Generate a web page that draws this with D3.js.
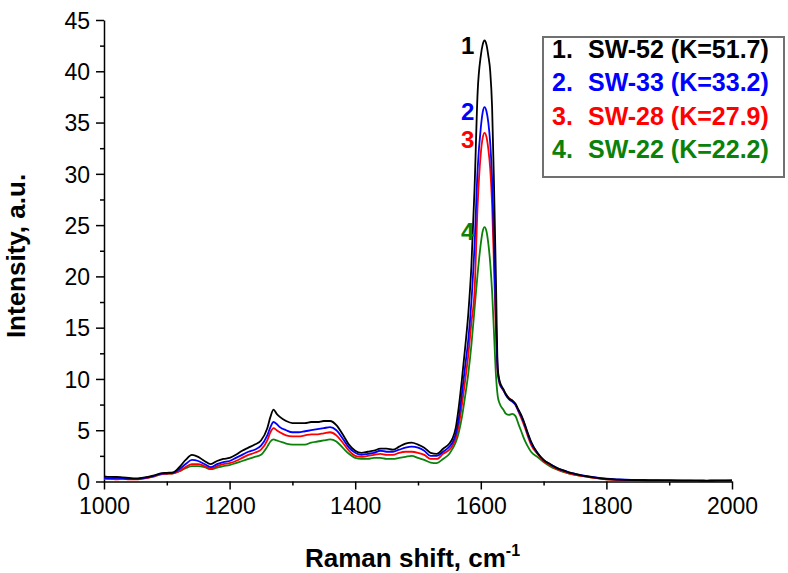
<!DOCTYPE html>
<meta charset="utf-8">
<style>
body { margin: 0; background: #fff; }
svg { font-family: "Liberation Sans", Arial, sans-serif; }
.axis path, .axis line { stroke: #000; stroke-width: 1.5; }
.axis text { font-size: 23px; fill: #000; }
.curve { fill: none; stroke-width: 1.8; stroke-linejoin: round; }
</style>
<svg width="788" height="573"></svg>
<script src="https://d3js.org/d3.v7.min.js"></script>
<script>

// Raman shift, cm-1
var shift = [1000,1010,1020,1030,1040,1050,1060,1070,1080,1090,
  1100,1110,1120,1130,1140,1150,1160,1170,1180,1190,
  1200,1210,1220,1230,1240,1250,1260,1265,1270,1275,
  1280,1290,1300,1310,1320,1330,1340,1350,1360,1370,
  1380,1390,1400,1410,1420,1430,1440,1450,1460,1470,
  1480,1490,1500,1510,1520,1530,1540,1550,1555,1560,
  1565,1570,1575,1580,1585,1590,1595,1600,1603,1606,
  1609,1612,1615,1618,1621,1624,1627,1630,1636,1640,
  1645,1650,1655,1660,1665,1670,1675,1680,1690,1700,
  1710,1720,1730,1740,1750,1760,1780,1800,1820,1840,
  1860,1880,1900,1920,1940,1960,1980,2000];

var sw52 = [0.5,0.45,0.45,0.4,0.35,0.3,0.35,0.45,0.6,0.8,
  0.85,0.9,1.4,2.1,2.6,2.4,2.0,1.7,2.0,2.2,
  2.3,2.6,3.0,3.3,3.6,4.0,5.2,6.3,7.0,6.6,
  6.3,5.9,5.7,5.7,5.7,5.8,5.8,5.9,5.9,5.5,
  4.6,3.6,3.0,2.8,2.9,3.0,3.2,3.2,3.1,3.4,
  3.7,3.8,3.6,3.3,2.8,2.7,3.2,3.7,4.2,5.2,
  7.3,10.0,13.0,16.3,21.0,28.5,38.0,41.5,42.6,43.0,
  42.6,41.5,40.0,36.5,29.0,20.0,11.0,9.8,9.0,8.5,
  8.1,7.9,7.6,7.0,6.4,5.6,4.7,3.9,2.8,2.1,
  1.7,1.35,1.1,0.9,0.75,0.6,0.4,0.25,0.18,0.14,
  0.12,0.1,0.1,0.08,0.08,0.07,0.08,0.08];

var sw33 = [0.35,0.3,0.35,0.3,0.25,0.25,0.3,0.4,0.55,0.75,
  0.8,0.85,1.2,1.7,2.1,2.0,1.7,1.4,1.7,1.9,
  2.0,2.3,2.6,2.9,3.1,3.5,4.5,5.3,5.8,5.6,
  5.3,5.0,4.8,4.8,4.9,5.0,5.1,5.2,5.3,5.0,
  4.2,3.3,2.8,2.6,2.7,2.8,3.0,2.9,2.9,3.1,
  3.3,3.4,3.3,3.0,2.5,2.5,2.9,3.4,3.8,4.6,
  6.2,8.6,11.2,13.8,17.5,23.0,30.5,34.5,36.0,36.5,
  36.1,35.0,33.0,29.5,23.0,16.0,10.8,9.6,8.9,8.4,
  8.0,7.8,7.5,6.9,6.3,5.5,4.6,3.8,2.8,2.1,
  1.7,1.35,1.1,0.9,0.75,0.62,0.42,0.27,0.2,0.15,
  0.13,0.1,0.1,0.09,0.08,0.08,0.09,0.1];

var sw28 = [0.25,0.25,0.2,0.25,0.2,0.2,0.25,0.35,0.5,0.7,
  0.75,0.8,1.0,1.4,1.7,1.7,1.5,1.25,1.5,1.7,
  1.8,2.0,2.3,2.6,2.8,3.1,4.0,4.8,5.2,5.0,
  4.8,4.5,4.4,4.4,4.5,4.6,4.6,4.7,4.8,4.5,
  3.8,3.0,2.5,2.4,2.5,2.6,2.7,2.6,2.6,2.8,
  2.9,2.9,2.8,2.6,2.2,2.2,2.7,3.1,3.5,4.2,
  5.5,7.5,9.8,12.3,15.5,18.5,27.0,32.0,33.5,34.0,
  33.6,32.4,30.5,27.0,21.0,14.8,10.6,9.5,8.9,8.5,
  8.1,7.9,7.5,6.8,6.1,5.3,4.4,3.6,2.7,2.0,
  1.6,1.25,1.0,0.8,0.65,0.55,0.35,0.2,0.15,0.12,
  0.14,0.1,0.08,0.08,0.07,0.07,0.08,0.08];

var sw22 = [0.3,0.3,0.3,0.3,0.25,0.25,0.3,0.4,0.5,0.7,
  0.75,0.8,1.0,1.3,1.5,1.5,1.4,1.2,1.35,1.5,
  1.6,1.8,2.0,2.2,2.4,2.6,3.4,3.9,4.1,4.0,
  3.9,3.7,3.6,3.6,3.6,3.8,3.9,4.0,4.1,3.9,
  3.3,2.7,2.3,2.2,2.2,2.3,2.3,2.2,2.2,2.3,
  2.4,2.5,2.3,2.1,1.85,1.8,2.2,2.7,3.2,3.8,
  4.8,6.3,8.3,10.5,13.3,16.8,20.3,23.2,24.4,24.8,
  24.4,23.2,21.3,18.5,14.5,10.5,8.3,7.6,7.0,6.6,
  6.5,6.6,6.4,5.6,4.8,4.0,3.4,2.9,2.4,1.9,
  1.5,1.2,0.95,0.8,0.65,0.55,0.38,0.22,0.16,0.13,
  0.12,0.1,0.09,0.08,0.08,0.07,0.08,0.08];

var legendLabels = ["SW-52 (K=51.7)", "SW-33 (K=33.2)", "SW-28 (K=27.9)", "SW-22 (K=22.2)"];
var colors = ["#000000", "#0000ff", "#ff0000", "#0a820a"];
var peakLabels = ["1", "2", "3", "4"];

var xTicks = [1000, 1200, 1400, 1600, 1800, 2000];
var xMinor = [1100, 1300, 1500, 1700, 1900];
var yTicks = [0, 5, 10, 15, 20, 25, 30, 35, 40, 45];
var yMinor = [2.5, 7.5, 12.5, 17.5, 22.5, 27.5, 32.5, 37.5, 42.5];

var svg = d3.select("svg");

var x = d3.scaleLinear().domain([1000, 2000]).range([104, 732]);
var y = d3.scaleLinear().domain([0, 45]).range([481.5, 20]);

// minor ticks first, then main axes
svg.append("g").attr("class", "axis")
    .attr("transform", "translate(0,481.5)")
    .call(d3.axisBottom(x).tickValues(xMinor).tickSize(4).tickFormat(""))
    .select(".domain").remove();
svg.append("g").attr("class", "axis")
    .attr("transform", "translate(104,0)")
    .call(d3.axisLeft(y).tickValues(yMinor).tickSize(4).tickFormat(""))
    .select(".domain").remove();

var xAxis = svg.append("g").attr("class", "axis")
    .attr("transform", "translate(0,481.5)")
    .call(d3.axisBottom(x).tickValues(xTicks).tickFormat(d3.format("d"))
      .tickSize(8).tickSizeOuter(0).tickPadding(8));
xAxis.selectAll("text").attr("dy", "0.72em");

var yAxis = svg.append("g").attr("class", "axis")
    .attr("transform", "translate(104,0)")
    .call(d3.axisLeft(y).tickValues(yTicks).tickSize(8).tickSizeOuter(0).tickPadding(6));
yAxis.selectAll("text").attr("dy", "0.36em");

// curves
var series = [sw22, sw28, sw33, sw52];
var seriesColors = [colors[3], colors[2], colors[1], colors[0]];
var line = d3.line()
    .x(function(d) { return x(d[0]); })
    .y(function(d) { return y(d[1]); })
    .curve(d3.curveMonotoneX);

series.forEach(function(vals, i) {
  var pts = shift.map(function(s, j) { return [s, vals[j]]; });
  svg.append("path")
      .attr("class", "curve")
      .attr("stroke", seriesColors[i])
      .attr("d", line(pts));
});

// numbers near the G peak
var peaks = [d3.max(sw52), d3.max(sw33), d3.max(sw28), d3.max(sw22)];
var labelOffsets = [13, 13, 15, 13];
peakLabels.forEach(function(t, i) {
  svg.append("text")
      .attr("x", x(1596) - 4)
      .attr("y", y(peaks[i]) + labelOffsets[i])
      .attr("text-anchor", "end")
      .attr("font-size", 24)
      .attr("font-weight", "bold")
      .attr("fill", colors[i])
      .text(t);
});

// legend
var legend = svg.append("g").attr("transform", "translate(543,37)");
legend.append("rect")
    .attr("width", 241).attr("height", 140)
    .attr("fill", "#fff")
    .attr("stroke", "#707070")
    .attr("stroke-width", 2);
legendLabels.forEach(function(t, i) {
  var row = legend.append("g").attr("transform", "translate(0," + (21 + i * 33.3) + ")");
  row.append("text")
      .attr("x", 9).attr("font-size", 25).attr("font-weight", "bold")
      .attr("fill", colors[i]).text((i + 1) + ".");
  row.append("text")
      .attr("x", 45).attr("font-size", 25).attr("font-weight", "bold")
      .attr("fill", colors[i]).text(t);
});

// axis titles
var xt = svg.append("text")
    .attr("x", 305).attr("y", 567)
    .attr("font-size", 26).attr("font-weight", "bold");
xt.append("tspan").text("Raman shift, cm");
xt.append("tspan").attr("dy", -11).attr("font-size", 16).text("-1");

svg.append("text")
    .attr("transform", "translate(25,256) rotate(-90)")
    .attr("text-anchor", "middle")
    .attr("font-size", 26).attr("font-weight", "bold")
    .text("Intensity, a.u.");

</script>
